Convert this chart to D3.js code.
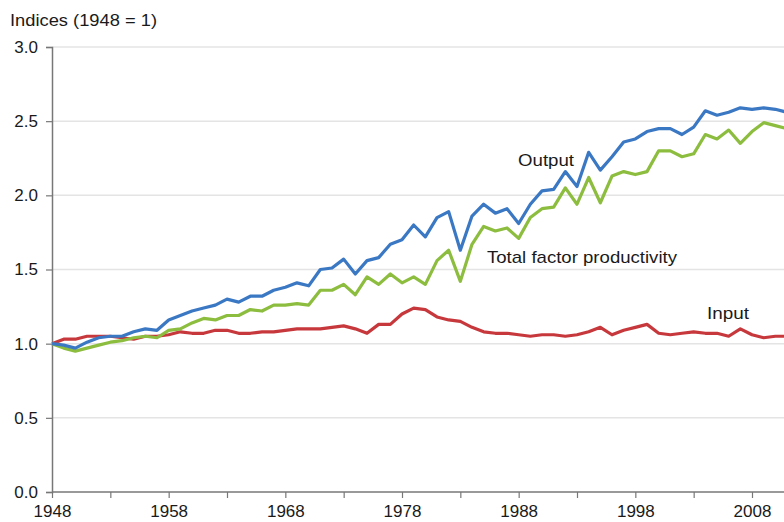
<!DOCTYPE html>
<html>
<head>
<meta charset="utf-8">
<script src="https://cdn.jsdelivr.net/npm/d3@7"></script>
<style>
  body { margin: 0; background: #fff; }
  text { font-family: "Liberation Sans", Arial, sans-serif; fill: #1a1a1a; }
</style>
</head>
<body>
<div id="chart"></div>
<script>
// data, indices 1948 = 1
var years = d3.range(1948, 2012);

var output = [1.00, 0.99, 0.97, 1.01, 1.04, 1.05, 1.05, 1.08, 1.10, 1.09,
  1.16, 1.19, 1.22, 1.24, 1.26, 1.30, 1.28, 1.32, 1.32, 1.36,
  1.38, 1.41, 1.39, 1.50, 1.51, 1.57, 1.47, 1.56, 1.58, 1.67,
  1.70, 1.80, 1.72, 1.85, 1.89, 1.63, 1.86, 1.94, 1.88, 1.91,
  1.81, 1.94, 2.03, 2.04, 2.16, 2.06, 2.29, 2.17, 2.26, 2.36,
  2.38, 2.43, 2.45, 2.45, 2.41, 2.46, 2.57, 2.54, 2.56, 2.59,
  2.58, 2.59, 2.58, 2.56];

var tfp = [1.00, 0.97, 0.95, 0.97, 0.99, 1.01, 1.02, 1.04, 1.05, 1.04,
  1.09, 1.10, 1.14, 1.17, 1.16, 1.19, 1.19, 1.23, 1.22, 1.26,
  1.26, 1.27, 1.26, 1.36, 1.36, 1.40, 1.33, 1.45, 1.40, 1.47,
  1.41, 1.45, 1.40, 1.56, 1.63, 1.42, 1.67, 1.79, 1.76, 1.78,
  1.71, 1.85, 1.91, 1.92, 2.05, 1.94, 2.12, 1.95, 2.13, 2.16,
  2.14, 2.16, 2.30, 2.30, 2.26, 2.28, 2.41, 2.38, 2.44, 2.35,
  2.43, 2.49, 2.47, 2.45];

var input = [1.00, 1.03, 1.03, 1.05, 1.05, 1.05, 1.04, 1.03, 1.05, 1.05,
  1.06, 1.08, 1.07, 1.07, 1.09, 1.09, 1.07, 1.07, 1.08, 1.08,
  1.09, 1.10, 1.10, 1.10, 1.11, 1.12, 1.10, 1.07, 1.13, 1.13,
  1.20, 1.24, 1.23, 1.18, 1.16, 1.15, 1.11, 1.08, 1.07, 1.07,
  1.06, 1.05, 1.06, 1.06, 1.05, 1.06, 1.08, 1.11, 1.06, 1.09,
  1.11, 1.13, 1.07, 1.06, 1.07, 1.08, 1.07, 1.07, 1.05, 1.10,
  1.06, 1.04, 1.05, 1.05];

var yTicks = [0, 0.5, 1.0, 1.5, 2.0, 2.5, 3.0];
var xLabels = [1948, 1958, 1968, 1978, 1988, 1998, 2008];

var series = [
  { name: "Output", values: output, color: "#3b78c4", lx: 518, ly: 166, len: 56 },
  { name: "Total factor productivity", values: tfp, color: "#8dbd3e", lx: 487, ly: 263, len: 190 },
  { name: "Input", values: input, color: "#c7383c", lx: 707, ly: 319, len: 42 }
];

var width = 784, height = 522;
var x0 = 52, y0 = 492;

var svg = d3.select("#chart").append("svg")
  .attr("width", width)
  .attr("height", height);

var x = d3.scaleLinear().domain([1948, 2008]).range([x0, 752]);
var y = d3.scaleLinear().domain([0, 3]).range([y0, 47]);

// gridlines
svg.append("g").selectAll("line")
  .data(yTicks.filter(function(d){ return d > 0; }))
  .enter().append("line")
  .attr("x1", x0).attr("x2", width)
  .attr("y1", function(d){ return y(d); })
  .attr("y2", function(d){ return y(d); })
  .attr("stroke", "#e4e4e4")
  .attr("stroke-width", 1.5);

// y axis
var yAxis = svg.append("g")
  .attr("transform", "translate(" + x0 + ",0)")
  .call(d3.axisLeft(y).tickValues(yTicks).tickFormat(d3.format(".1f")).tickSize(6).tickPadding(8));
yAxis.select(".domain").attr("stroke", "#777").attr("stroke-width", 1.5);
yAxis.selectAll(".tick line").attr("stroke", "#777").attr("stroke-width", 1.2);
yAxis.selectAll("text").style("font-size", "17px").attr("fill", "#1a1a1a");

// x axis, ticks every 5 years
var xAxis = svg.append("g")
  .attr("transform", "translate(0," + y0 + ")")
  .call(d3.axisBottom(x).tickValues(d3.range(1948, 2012, 5)).tickSize(6).tickPadding(7)
    .tickFormat(function(d){ return xLabels.indexOf(d) >= 0 ? d : ""; }));
xAxis.select(".domain").attr("d", "M" + x0 + ",0H" + width).attr("stroke", "#777").attr("stroke-width", 1.5);
xAxis.selectAll(".tick line").attr("stroke", "#777").attr("stroke-width", 1.2);
xAxis.selectAll("text").style("font-size", "17px").attr("fill", "#1a1a1a");

// lines
var line = d3.line()
  .x(function(d, i){ return x(years[i]); })
  .y(function(d){ return y(d); });

// draw input first so output / tfp sit on top
[series[2], series[1], series[0]].forEach(function(s){
  svg.append("path")
    .datum(s.values)
    .attr("d", line)
    .attr("fill", "none")
    .attr("stroke", s.color)
    .attr("stroke-width", 3.2)
    .attr("stroke-linejoin", "round");
});

series.forEach(function(s){
  svg.append("text")
    .attr("x", s.lx).attr("y", s.ly)
    .attr("textLength", s.len)
    .attr("lengthAdjust", "spacingAndGlyphs")
    .style("font-size", "17px")
    .text(s.name);
});

svg.append("text")
  .attr("x", 10).attr("y", 26)
  .attr("textLength", 147)
  .attr("lengthAdjust", "spacingAndGlyphs")
  .style("font-size", "17px")
  .text("Indices (1948 = 1)");
</script>
</body>
</html>
